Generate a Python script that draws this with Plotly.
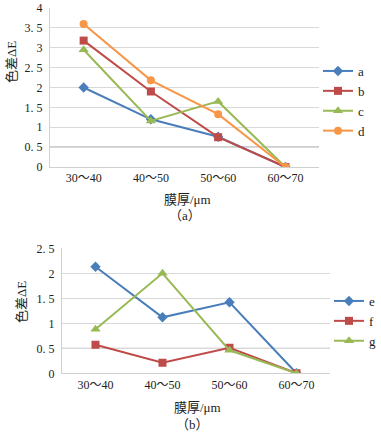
import plotly.graph_objects as go

categories = ["30～40", "40～50", "50～60", "60～70"]

# Chart (a)
a_vals = [2.0, 1.2, 0.76, 0.0]
b_vals = [3.18, 1.9, 0.75, 0.0]
c_vals = [2.95, 1.16, 1.65, 0.0]
d_vals = [3.6, 2.18, 1.33, 0.0]

# Chart (b)
e_vals = [2.13, 1.12, 1.42, 0.0]
f_vals = [0.57, 0.21, 0.51, 0.0]
g_vals = [0.88, 2.0, 0.46, 0.0]

yticks_a = [0, 0.5, 1, 1.5, 2, 2.5, 3, 3.5, 4]
yticklabels_a = ["0", "0. 5", "1", "1. 5", "2", "2. 5", "3", "3. 5", "4"]
yticks_b = [0, 0.5, 1, 1.5, 2, 2.5]
yticklabels_b = ["0", "0. 5", "1", "1. 5", "2", "2. 5"]

BLUE = "#4A7EBB"
RED = "#BE4B48"
GREEN = "#98B954"
ORANGE = "#F79646"

W, H = 381, 434
FONT = "Liberation Serif, Noto Sans CJK SC, serif"

def px(x):
    return x / W

def py(y):
    return 1 - y / H

fig = go.Figure()

def add(name, vals, color, symbol, size, xa, ya, legend):
    fig.add_trace(go.Scatter(
        x=categories, y=vals, name=name, mode="lines+markers",
        line=dict(color=color, width=2),
        marker=dict(symbol=symbol, size=size, color=color),
        xaxis=xa, yaxis=ya, legend=legend,
    ))

add("a", a_vals, BLUE, "diamond", 8, "x", "y", "legend")
add("b", b_vals, RED, "square", 8, "x", "y", "legend")
add("c", c_vals, GREEN, "triangle-up", 9, "x", "y", "legend")
add("d", d_vals, ORANGE, "circle", 8, "x", "y", "legend")

add("e", e_vals, BLUE, "diamond", 8, "x2", "y2", "legend2")
add("f", f_vals, RED, "square", 8, "x2", "y2", "legend2")
add("g", g_vals, GREEN, "triangle-up", 9, "x2", "y2", "legend2")

tickfont = dict(family=FONT, size=12, color="#222222")

xcommon = dict(
    type="category", showgrid=False, zeroline=False,
    showline=True, linecolor="#D0D0D0", linewidth=1,
    ticks="", tickfont=tickfont, range=[-0.5, 3.5], fixedrange=True,
)

fig.update_layout(
    width=W, height=H,
    margin=dict(l=0, r=0, t=0, b=0, autoexpand=False),
    paper_bgcolor="white", plot_bgcolor="white",
    showlegend=True,
    xaxis=dict(domain=[px(50), px(319)], anchor="y", **xcommon),
    yaxis=dict(domain=[py(167), py(8)], anchor="x", range=[0, 4],
               tickvals=yticks_a, ticktext=yticklabels_a,
               showgrid=True, gridcolor="#D9D9D9", gridwidth=1,
               zeroline=False, showline=True, linecolor="#D0D0D0",
               tickfont=tickfont, ticks="", ticklabelstandoff=4),
    xaxis2=dict(domain=[px(62), px(330)], anchor="y2", **xcommon),
    yaxis2=dict(domain=[py(373.3), py(248.3)], anchor="x2", range=[0, 2.5],
                tickvals=yticks_b, ticktext=yticklabels_b,
                showgrid=True, gridcolor="#D9D9D9", gridwidth=1,
                zeroline=False, showline=True, linecolor="#D0D0D0",
                tickfont=tickfont, ticks="", ticklabelstandoff=4),
    legend=dict(x=px(318), y=py(56), xanchor="left", yanchor="top",
                font=dict(family=FONT, size=13, color="#222222"),
                itemwidth=30, tracegroupgap=0, bgcolor="rgba(0,0,0,0)"),
    legend2=dict(x=px(329), y=py(286), xanchor="left", yanchor="top",
                 font=dict(family=FONT, size=13, color="#222222"),
                 itemwidth=30, tracegroupgap=0, bgcolor="rgba(0,0,0,0)"),
)

# darker 0.5 gridlines
fig.add_shape(type="line", xref="x domain", yref="y", x0=0, x1=1, y0=0.5, y1=0.5,
              line=dict(color="#808080", width=1), layer="below")
fig.add_shape(type="line", xref="x2 domain", yref="y2", x0=0, x1=1, y0=0.5, y1=0.5,
              line=dict(color="#A6A6A6", width=1), layer="below")

tfont = dict(family=FONT, size=13, color="#222222")
ann = [
    dict(text="色差ΔE", x=px(12), y=py(62), textangle=-90),
    dict(text="膜厚/μm", x=px(187), y=py(199)),
    dict(text="（a）", x=px(185), y=py(215)),
    dict(text="色差ΔE", x=px(21), y=py(302), textangle=-90),
    dict(text="膜厚/μm", x=px(197), y=py(407)),
    dict(text="（b）", x=px(192), y=py(424)),
]
for a in ann:
    fig.add_annotation(xref="paper", yref="paper", showarrow=False,
                       xanchor="center", yanchor="middle", font=tfont, **a)

fig.write_html(
    "out.html",
    config={"displayModeBar": False},
    post_script="document.body.style.margin='0';document.body.style.overflow='hidden';",
)
